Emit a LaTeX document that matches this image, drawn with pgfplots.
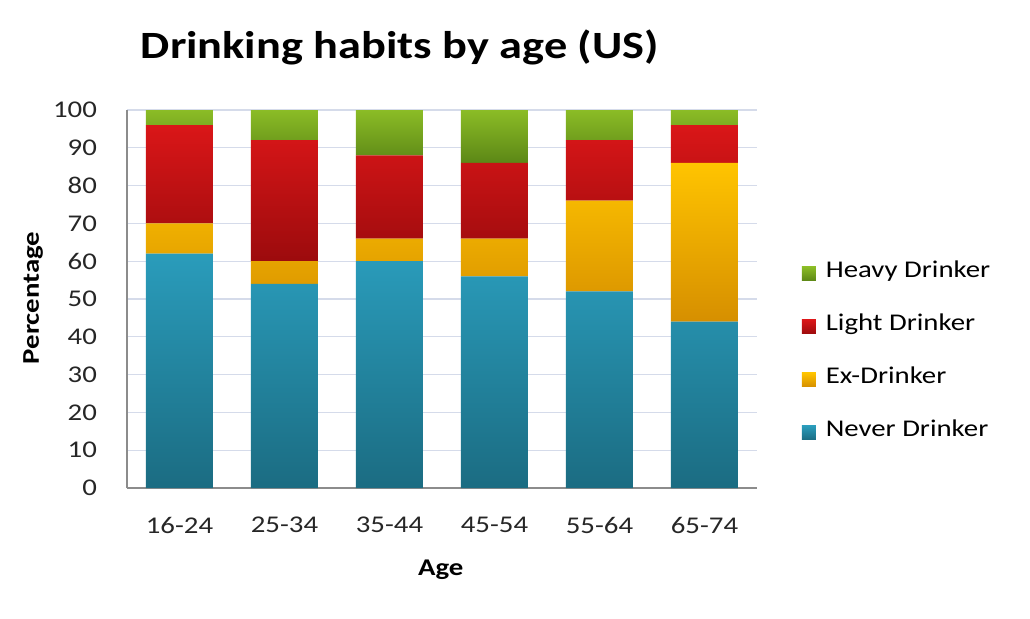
\documentclass[border=0pt]{standalone}
\usepackage{fontspec}
\setmainfont{Carlito}[FakeStretch=1.2]
\usepackage{pgfplots}
\pgfplotsset{compat=1.18}

\definecolor{neverTop}{HTML}{2A9CBB}
\definecolor{neverBot}{HTML}{1B6C82}
\definecolor{exTop}{HTML}{FFC400}
\definecolor{exBot}{HTML}{D68F00}
\definecolor{lightTop}{HTML}{DA1618}
\definecolor{lightBot}{HTML}{9C0B0D}
\definecolor{heavyTop}{HTML}{8BBC26}
\definecolor{heavyBot}{HTML}{5C8716}
\definecolor{gridc}{HTML}{D5DBEA}
\definecolor{axc}{HTML}{8C8C8C}

\begin{document}
\begin{tikzpicture}
% page = 1030 x 618 px, 1 px = 0.5 pt; axis box 127..757 x 110..488 px
\path[use as bounding box] (-63.5pt,-65pt) rectangle (451.5pt,244pt);
\begin{axis}[
    at={(0pt,0pt)}, anchor=south west,
    scale only axis,
    width=315pt, height=189pt,
    ybar stacked,
    bar width=33.5pt,
    xmin=-0.5, xmax=5.5,
    ymin=0, ymax=100,
    xtick={0,1,2,3,4,5},
    xticklabels={16-24,25-34,35-44,45-54,55-64,65-74},
    ytick={0,10,...,100},
    /pgf/number format/assume math mode=true,
    tick label style={font=\fontsize{12}{14}\selectfont, text=black!85},
    xticklabel style={yshift=-11pt},
    yticklabel style={xshift=-11.5pt},
    major tick length=0pt,
    axis x line*=bottom,
    axis y line*=left,
    axis line style={axc, line width=0.8pt},
    ymajorgrids,
    major grid style={gridc, line width=0.6pt},
    clip=false,
    reverse legend,
    legend style={
        at={(1.061,0.61)}, anchor=north west,
        draw=none, fill=none,
        font=\fontsize{12}{14}\selectfont,
        row sep=14.5pt,
        nodes={inner sep=0pt, text height=8pt, text depth=4pt},
    },
    legend cell align=left,
    legend image code/.code={
        \path[#1] (0pt,-3.5pt) rectangle (7pt,3.5pt);
        \path (7pt,0pt) -- (12pt,0pt);
    },
]
\addplot[draw=none, top color=neverTop, bottom color=neverBot] coordinates {
    (0,62) (1,54) (2,60) (3,56) (4,52) (5,44)
};
\addlegendentry{Never Drinker}
\addplot[draw=none, top color=exTop, bottom color=exBot] coordinates {
    (0,8) (1,6) (2,6) (3,10) (4,24) (5,42)
};
\addlegendentry{Ex-Drinker}
\addplot[draw=none, top color=lightTop, bottom color=lightBot] coordinates {
    (0,26) (1,32) (2,22) (3,20) (4,16) (5,10)
};
\addlegendentry{Light Drinker}
\addplot[draw=none, top color=heavyTop, bottom color=heavyBot] coordinates {
    (0,4) (1,8) (2,12) (3,14) (4,8) (5,4)
};
\addlegendentry{Heavy Drinker}

\node[anchor=base, font=\bfseries\fontsize{19.3}{22}\selectfont]
    at (rel axis cs:0.433,1.135) {Drinking habits by age (US)};
\node[rotate=90, font=\bfseries\fontsize{12}{14}\selectfont]
    at (rel axis cs:-0.149,0.503) {Percentage};
\node[font=\bfseries\fontsize{12}{14}\selectfont]
    at (rel axis cs:0.498,-0.217) {Age};
\end{axis}
\end{tikzpicture}
\end{document}
